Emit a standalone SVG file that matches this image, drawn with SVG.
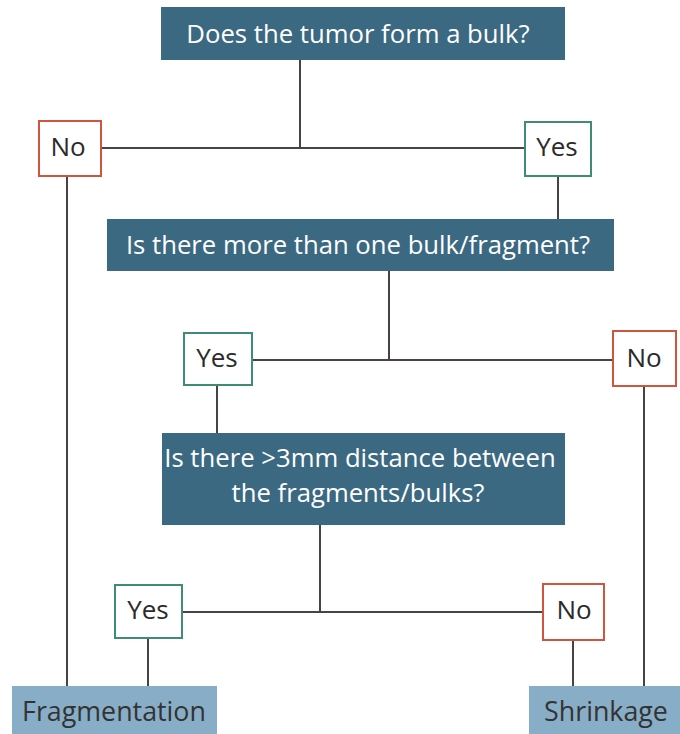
<svg xmlns="http://www.w3.org/2000/svg" width="680" height="734" viewBox="0 0 680 734">
<style>
.q{fill:#3b6982;}
.r{fill:#88adc7;}
.no{fill:#fff;stroke:#d0553f;stroke-width:2;}
.yes{fill:#fff;stroke:#3e8b76;stroke-width:2;}
.qt{font-family:"Open Sans","DejaVu Sans",sans-serif;font-size:25.7px;fill:#fff;text-anchor:middle;}
.bt{font-family:"Open Sans","DejaVu Sans",sans-serif;font-size:26px;fill:#2b2b2b;text-anchor:middle;}
.rt{font-family:"Open Sans","DejaVu Sans",sans-serif;font-size:26.8px;fill:#333;text-anchor:middle;}
.c line{stroke:#4a4242;stroke-width:2;}
</style>
<rect width="680" height="734" fill="#fff"/>
<g class="c" id="connectors">
<line x1="300" y1="60" x2="300" y2="148"/>
<line x1="101" y1="148" x2="525" y2="148"/>
<line x1="67" y1="176" x2="67" y2="686"/>
<line x1="558" y1="176" x2="558" y2="219"/>
<line x1="389" y1="271" x2="389" y2="360"/>
<line x1="252" y1="360" x2="613" y2="360"/>
<line x1="217" y1="385" x2="217" y2="433"/>
<line x1="644" y1="386" x2="644" y2="686"/>
<line x1="320" y1="525" x2="320" y2="612"/>
<line x1="182" y1="612" x2="543" y2="612"/>
<line x1="148" y1="638" x2="148" y2="686"/>
<line x1="573" y1="640" x2="573" y2="686"/>
</g>
<g id="q1"><rect class="q" x="161" y="7" width="404" height="53"/><text class="qt" x="358" y="43">Does the tumor form a bulk?</text></g>
<g id="no1"><rect class="no" x="39" y="121" width="62" height="55"/><text class="bt" x="68" y="156">No</text></g>
<g id="yes1"><rect class="yes" x="525" y="122" width="66" height="54"/><text class="bt" x="557" y="156">Yes</text></g>
<g id="q2"><rect class="q" x="107" y="219" width="507" height="52"/><text class="qt" x="358" y="254">Is there more than one bulk/fragment?</text></g>
<g id="yes2"><rect class="yes" x="184" y="333" width="68" height="52"/><text class="bt" x="217" y="367">Yes</text></g>
<g id="no2"><rect class="no" x="613" y="331" width="63" height="55"/><text class="bt" x="644" y="367">No</text></g>
<g id="q3"><rect class="q" x="162" y="433" width="403" height="92"/><text class="qt" x="360" y="467">Is there &gt;3mm distance between</text><text class="qt" x="358" y="502">the fragments/bulks?</text></g>
<g id="yes3"><rect class="yes" x="115" y="585" width="67" height="53"/><text class="bt" x="148" y="619">Yes</text></g>
<g id="no3"><rect class="no" x="543" y="584" width="61" height="56"/><text class="bt" x="574" y="619">No</text></g>
<g id="frag"><rect class="r" x="12" y="686" width="205" height="48"/><text class="rt" x="114" y="721">Fragmentation</text></g>
<g id="shrink"><rect class="r" x="529" y="686" width="151" height="48"/><text class="rt" x="606" y="721">Shrinkage</text></g>
</svg>
